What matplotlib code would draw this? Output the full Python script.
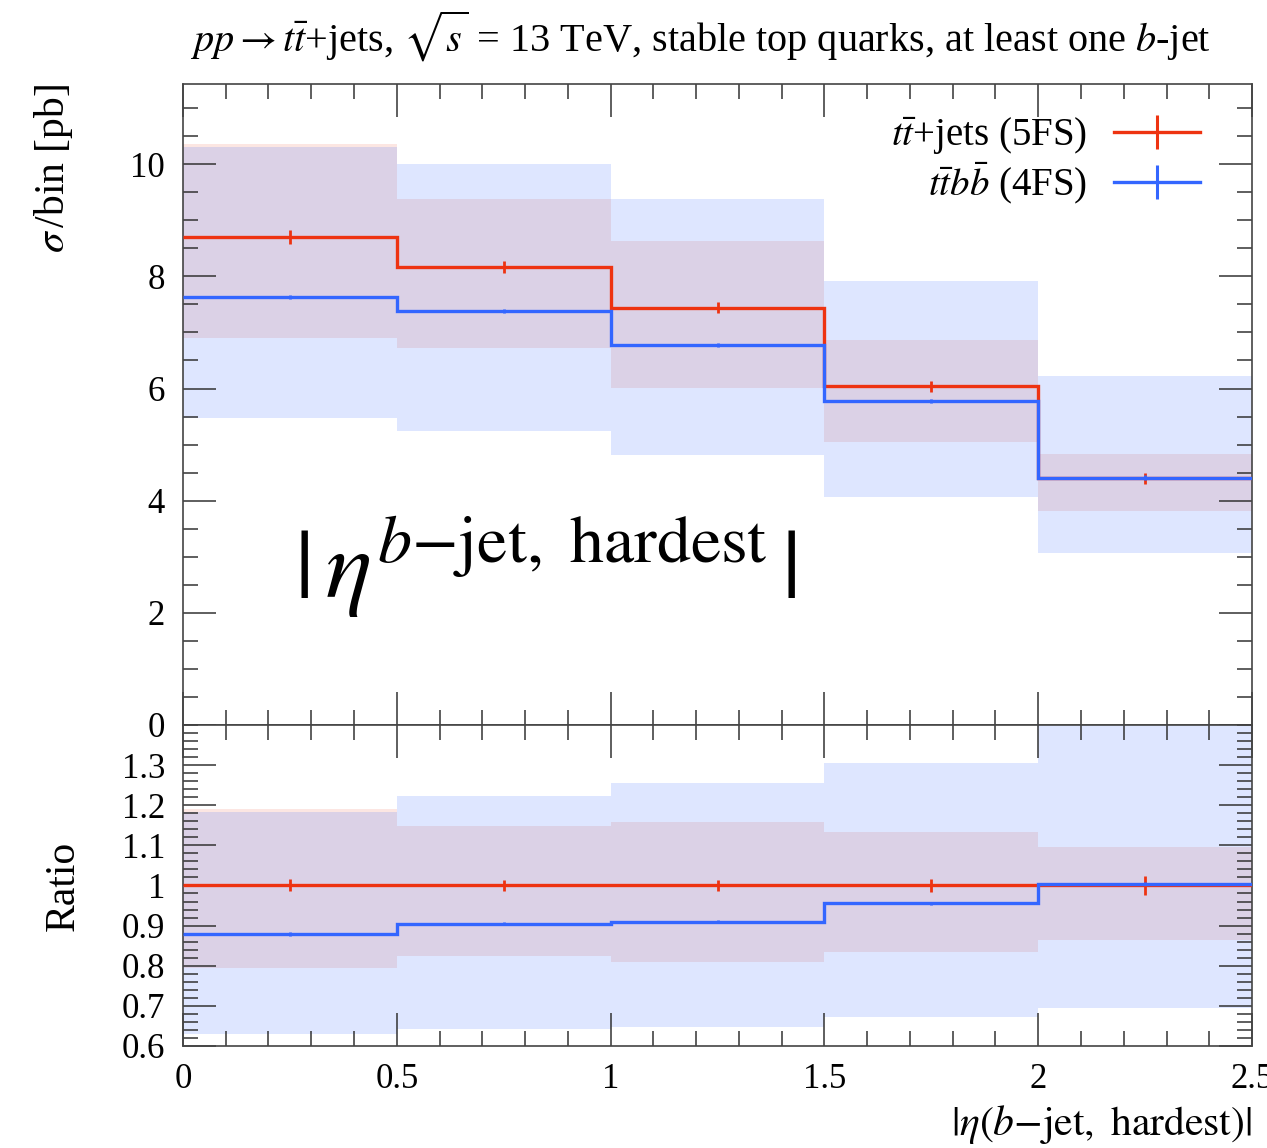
import matplotlib
matplotlib.use("Agg")
from matplotlib import pyplot as plt
from matplotlib.lines import Line2D
from matplotlib.ticker import MultipleLocator, FixedLocator
import numpy as np

plt.rcParams['font.family'] = ['Liberation Serif', 'DejaVu Serif']
plt.rcParams['mathtext.fontset'] = 'stix'

# bin edges in |eta(b-jet, hardest)|
edges = [0.0, 0.5, 1.0, 1.5, 2.0, 2.5]

# ttbar+jets (5FS)
ttjets = [8.70, 8.17, 7.44, 6.04, 4.40]
ttjets_err = [0.12, 0.11, 0.10, 0.10, 0.10]
ttjets_up = [10.36, 9.38, 8.63, 6.87, 4.84]
ttjets_dn = [6.90, 6.73, 6.01, 5.05, 3.81]

# ttbb (4FS)
ttbb = [7.63, 7.38, 6.78, 5.78, 4.41]
ttbb_err = [0.04, 0.04, 0.04, 0.04, 0.04]
ttbb_up = [10.30, 10.00, 9.38, 7.92, 6.23]
ttbb_dn = [5.48, 5.25, 4.82, 4.07, 3.06]

# ratio panel (w.r.t. ttbar+jets)
r_ttjets = [1.0, 1.0, 1.0, 1.0, 1.0]
r_ttjets_err = [0.015, 0.013, 0.014, 0.017, 0.024]
r_ttjets_up = [1.190, 1.147, 1.159, 1.134, 1.097]
r_ttjets_dn = [0.794, 0.823, 0.808, 0.833, 0.864]
r_ttbb = [0.879, 0.905, 0.910, 0.956, 1.004]
r_ttbb_err = [0.004, 0.004, 0.004, 0.004, 0.004]
r_ttbb_up = [1.184, 1.222, 1.256, 1.306, 1.416]
r_ttbb_dn = [0.629, 0.643, 0.647, 0.672, 0.695]

xticks = [0, 0.5, 1, 1.5, 2, 2.5]
xticklabels = ["0", "0.5", "1", "1.5", "2", "2.5"]
rticks = [0.6, 0.7, 0.8, 0.9, 1.0, 1.1, 1.2, 1.3]
rticklabels = ["0.6", "0.7", "0.8", "0.9", "1", "1.1", "1.2", "1.3"]

red = "#EE3311"
blue = "#3366FF"

fig = plt.figure(figsize=(12.67, 11.48), dpi=100)
ax = fig.add_axes([0.1444, 0.3685, 0.8438, 0.5583])
rx = fig.add_axes([0.1444, 0.0889, 0.8438, 0.2796])

centers = [(edges[i] + edges[i+1]) / 2 for i in range(len(edges) - 1)]

for a, sets in [(ax, [(ttjets, ttjets_err, ttjets_up, ttjets_dn, red, 0.12),
                      (ttbb, ttbb_err, ttbb_up, ttbb_dn, blue, 0.16)]),
                (rx, [(r_ttjets, r_ttjets_err, r_ttjets_up, r_ttjets_dn, red, 0.12),
                      (r_ttbb, r_ttbb_err, r_ttbb_up, r_ttbb_dn, blue, 0.16)])]:
    # uncertainty bands first, then the histograms on top
    for val, err, up, dn, col, al in sets:
        a.stairs(up, edges, baseline=dn, fill=True, color=col, alpha=al, lw=0, zorder=1)
    for val, err, up, dn, col, al in sets:
        a.stairs(val, edges, baseline=None, color=col, lw=2.4, zorder=3)
        a.errorbar(centers, val, yerr=err, fmt='none', ecolor=col, elinewidth=2.0, zorder=3)

for a in (ax, rx):
    a.set_xlim(0, 2.5)
    a.xaxis.set_major_locator(FixedLocator(xticks))
    a.xaxis.set_minor_locator(MultipleLocator(0.1))
    a.tick_params(which='both', direction='in', top=True, right=True, width=1.1,
                  color='#333333', labelsize=25)
    a.tick_params(which='major', length=24)
    a.tick_params(which='minor', length=11)
    a.tick_params(axis='y', pad=13)
    for s in a.spines.values():
        s.set_linewidth(1.2)
        s.set_color('#444444')

ax.set_ylim(0, 11.43)
ax.yaxis.set_major_locator(MultipleLocator(2))
ax.yaxis.set_minor_locator(MultipleLocator(0.5))
ax.tick_params(labelbottom=False)
ax.set_ylabel(r"$\sigma\,$/bin [pb]", fontsize=30, loc='top', labelpad=40)

rx.set_ylim(0.6, 1.4)
rx.yaxis.set_major_locator(FixedLocator(rticks))
rx.yaxis.set_minor_locator(MultipleLocator(0.02))
rx.set_yticklabels(rticklabels)
rx.set_xticklabels(xticklabels)
rx.tick_params(axis='x', pad=12)
rx.set_ylabel("Ratio", fontsize=30, labelpad=28)
rx.set_xlabel(r"$|\eta(b\mathrm{-jet,\ hardest})|$", fontsize=30, loc='right', labelpad=5)

ax.text(0.26, 2.29, r"$|\,\eta^{b\mathrm{-jet,\ hardest}}\,|$", fontsize=70, va='baseline', ha='left')

fig.text(0.553, 0.955, r"$pp \rightarrow t\bar{t}$+jets, $\sqrt{s}$ = 13 TeV, stable top quarks, at least one $b$-jet",
         fontsize=29, ha='center', va='baseline')

handles = [Line2D([], [], color=red, lw=2.4, marker='|', markersize=24, markeredgewidth=2.2),
           Line2D([], [], color=blue, lw=2.4, marker='|', markersize=24, markeredgewidth=2.2)]
ax.legend(handles, [r"$t\bar{t}$+jets (5FS)", r"$t\bar{t}b\bar{b}$ (4FS)"], loc='upper right',
          bbox_to_anchor=(0.984, 1.007), frameon=False, markerfirst=False, fontsize=28,
          handlelength=2.2, handletextpad=0.7, labelspacing=0.1)

fig.savefig("out.png", dpi=100)
